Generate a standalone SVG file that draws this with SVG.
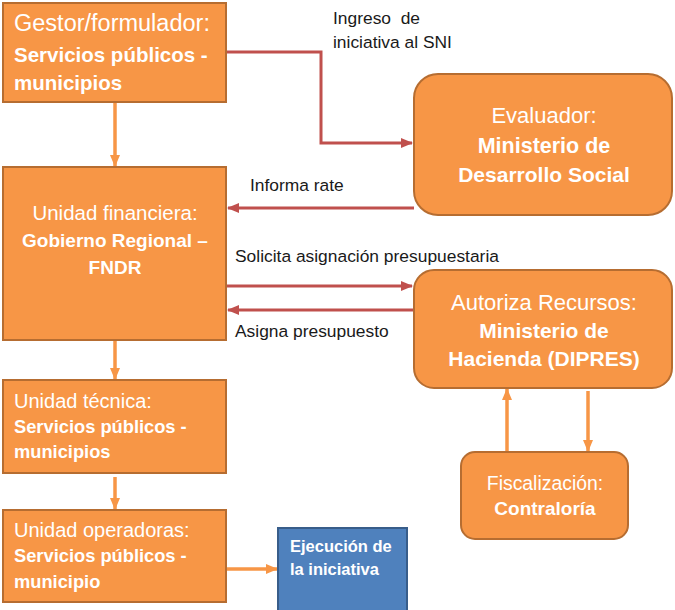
<svg xmlns="http://www.w3.org/2000/svg" width="675" height="610" viewBox="0 0 675 610">
<defs>
<style>
.box{fill:#f79646;stroke:#b66d31;stroke-width:2}
.blue{fill:#4f81bd;stroke:#385d8a;stroke-width:2}
.t{font-family:"Liberation Sans",Arial,sans-serif;fill:#fff}
.b{font-weight:bold}
.lbl{font-family:"Liberation Sans",Arial,sans-serif;fill:#1a1a1a;font-size:17.4px}
.red{fill:none;stroke:#c0504d;stroke-width:3}
.or{fill:none;stroke:#f79646;stroke-width:3.5}
</style>
<marker id="ar" markerUnits="userSpaceOnUse" markerWidth="12" markerHeight="12" viewBox="0 0 12 12" refX="11" refY="6" orient="auto">
<path d="M0,1 L12,6 L0,11 z" fill="#c0504d"/>
</marker>
<marker id="ao" markerUnits="userSpaceOnUse" markerWidth="12" markerHeight="12" viewBox="0 0 12 12" refX="11" refY="6" orient="auto">
<path d="M0,1 L12,6 L0,11 z" fill="#f79646"/>
</marker>
</defs>
<g id="connectors">
<path class="red" d="M226,52 H321 V143 H412" marker-end="url(#ar)"/>
<path class="red" d="M414,208 H228" marker-end="url(#ar)"/>
<path class="red" d="M226,286 H412" marker-end="url(#ar)"/>
<path class="red" d="M414,310 H228" marker-end="url(#ar)"/>
<path class="or" d="M115,103 V166" marker-end="url(#ao)"/>
<path class="or" d="M115,341 V379" marker-end="url(#ao)"/>
<path class="or" d="M115,477 V509" marker-end="url(#ao)"/>
<path class="or" d="M227,569 H277" marker-end="url(#ao)"/>
<path class="or" d="M507,451 V389" marker-end="url(#ao)"/>
<path class="or" d="M588,391 V451" marker-end="url(#ao)"/>
<text class="lbl" x="333" y="24" xml:space="preserve">Ingreso  de</text>
<text class="lbl" x="333" y="48">iniciativa al SNI</text>
<text class="lbl" x="250" y="191">Informa rate</text>
<text class="lbl" x="235" y="262">Solicita asignación presupuestaria</text>
<text class="lbl" x="235" y="337">Asigna presupuesto</text>
</g>
<g id="gestor">
<rect class="box" x="3" y="3" width="223" height="99"/>
<text class="t" x="14" y="31" font-size="23.5">Gestor/formulador:</text>
<text class="t b" x="14" y="62" font-size="20.5">Servicios públicos -</text>
<text class="t b" x="14" y="90" font-size="20.5">municipios</text>
</g>
<g id="evaluador">
<rect class="box" x="414" y="74" width="258" height="141" rx="24"/>
<text class="t" x="544" y="123" font-size="22" text-anchor="middle">Evaluador:</text>
<text class="t b" x="544" y="153" font-size="21.5" text-anchor="middle">Ministerio de</text>
<text class="t b" x="544" y="182" font-size="21" text-anchor="middle">Desarrollo Social</text>
</g>
<g id="financiera">
<rect class="box" x="3" y="167" width="223" height="173"/>
<text class="t" x="115" y="220" font-size="20.5" text-anchor="middle">Unidad financiera:</text>
<text class="t b" x="115" y="247" font-size="19" text-anchor="middle">Gobierno Regional –</text>
<text class="t b" x="115" y="274" font-size="19" text-anchor="middle">FNDR</text>
</g>
<g id="hacienda">
<rect class="box" x="414" y="270" width="258" height="118" rx="20"/>
<text class="t" x="544" y="310" font-size="22" text-anchor="middle">Autoriza Recursos:</text>
<text class="t b" x="544" y="338" font-size="21" text-anchor="middle">Ministerio de</text>
<text class="t b" x="544" y="366" font-size="21" text-anchor="middle">Hacienda (DIPRES)</text>
</g>
<g id="tecnica">
<rect class="box" x="3" y="380" width="223" height="93"/>
<text class="t" x="14" y="408" font-size="20">Unidad técnica:</text>
<text class="t b" x="14" y="433" font-size="18.3">Servicios públicos -</text>
<text class="t b" x="14" y="458" font-size="18.3">municipios</text>
</g>
<g id="operadoras">
<rect class="box" x="3" y="510" width="223" height="92"/>
<text class="t" x="14" y="537" font-size="20">Unidad operadoras:</text>
<text class="t b" x="14" y="562" font-size="18.3">Servicios públicos -</text>
<text class="t b" x="14" y="588" font-size="18.3">municipio</text>
</g>
<g id="fiscalizacion">
<rect class="box" x="461" y="452" width="167" height="87" rx="14"/>
<text class="t" x="545" y="490" font-size="19.4" text-anchor="middle">Fiscalización:</text>
<text class="t b" x="545" y="515" font-size="19" text-anchor="middle">Contraloría</text>
</g>
<g id="ejecucion">
<rect class="blue" x="278" y="528" width="129" height="84"/>
<text class="t b" x="290" y="552" font-size="16.5">Ejecución de</text>
<text class="t b" x="290" y="575" font-size="16.5">la iniciativa</text>
</g>
</svg>
